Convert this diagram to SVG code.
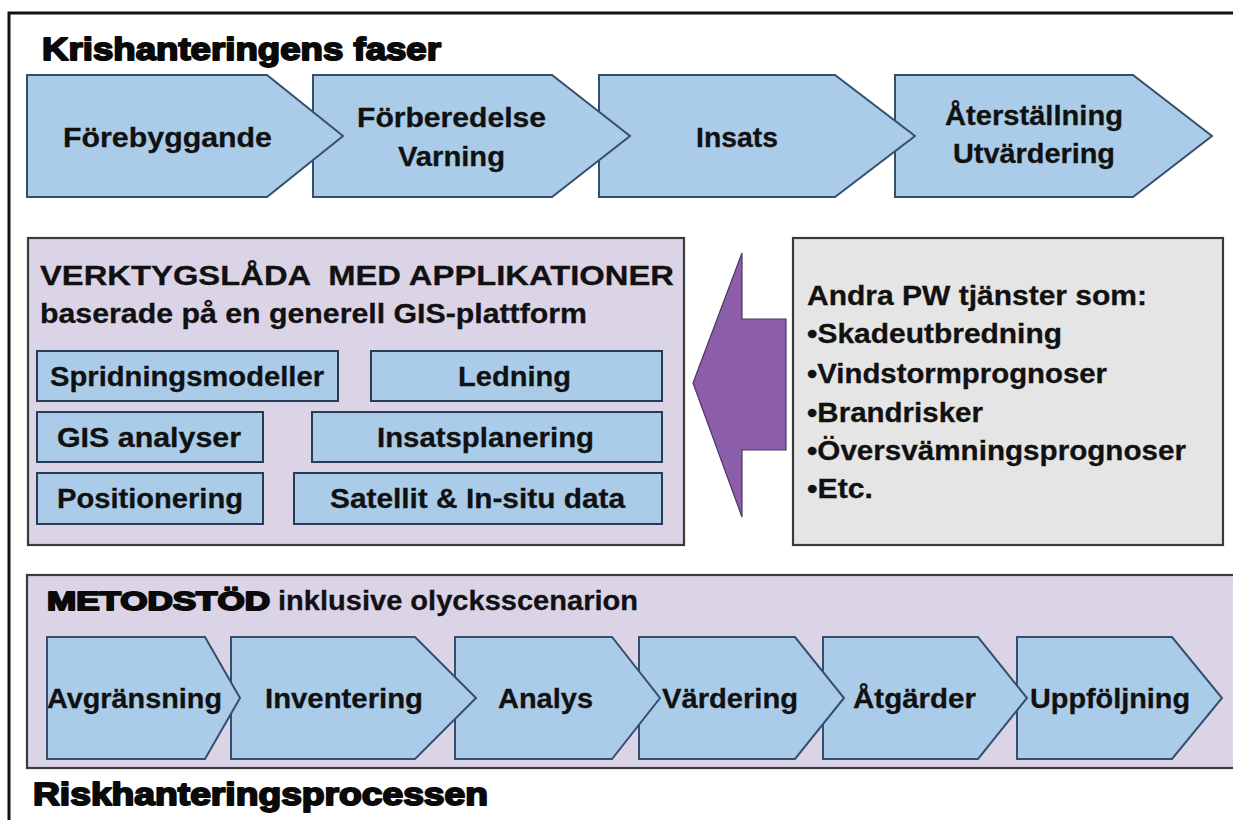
<svg xmlns="http://www.w3.org/2000/svg" width="1233" height="820" viewBox="0 0 1233 820">
<defs>
<style>
.bg{fill:#ffffff}
.frame{fill:none;stroke:#111;stroke-width:3}
.chev{fill:#aacce8;stroke:#34506e;stroke-width:2;stroke-linejoin:miter}
.app{fill:#aacce8;stroke:#2a3c55;stroke-width:2}
.panel{fill:#dbd4e7;stroke:#3a3a3a;stroke-width:2.2}
.grey{fill:#e5e5e5;stroke:#3a3a3a;stroke-width:2.2}
.arrow{fill:#8c5ea9;stroke:#4e3466;stroke-width:1.2}
.t{font-family:"Liberation Sans",Arial,sans-serif;font-weight:bold;font-size:27px;fill:#111;stroke:#111;stroke-width:0.3}
.h{font-family:"Liberation Sans",Arial,sans-serif;font-weight:bold;fill:#0a0a0a;stroke:#0a0a0a;stroke-width:1.9;stroke-linejoin:round}
</style>
</defs>
<rect class="bg" x="0" y="0" width="1233" height="820"/>
<path class="frame" d="M9 820 V13 H1233"/>

<g id="title-kris">
<text class="h" x="42" y="60" font-size="32" textLength="399" lengthAdjust="spacingAndGlyphs">Krishanteringens faser</text>
</g>

<g id="phase-aterstallning">
<polygon class="chev" points="895,75 1133,75 1212,136 1133,197 895,197"/>
<text class="t" x="945" y="125" textLength="178" lengthAdjust="spacingAndGlyphs">Återställning</text>
<text class="t" x="953" y="163" textLength="162" lengthAdjust="spacingAndGlyphs">Utvärdering</text>
</g>
<g id="phase-insats">
<polygon class="chev" points="599,75 835,75 915,136 835,197 599,197"/>
<text class="t" x="696" y="147" textLength="82" lengthAdjust="spacingAndGlyphs">Insats</text>
</g>
<g id="phase-forberedelse">
<polygon class="chev" points="313,75 552,75 630,136 552,197 313,197"/>
<text class="t" x="357" y="127" textLength="189" lengthAdjust="spacingAndGlyphs">Förberedelse</text>
<text class="t" x="398" y="166" textLength="107" lengthAdjust="spacingAndGlyphs">Varning</text>
</g>
<g id="phase-forebyggande">
<polygon class="chev" points="27,75 267,75 343,136 267,197 27,197"/>
<text class="t" x="63" y="147" textLength="209" lengthAdjust="spacingAndGlyphs">Förebyggande</text>
</g>

<g id="verktygslada">
<rect class="panel" x="28" y="238" width="656" height="307"/>
<text class="t" x="40" y="285" font-size="30" textLength="634" lengthAdjust="spacingAndGlyphs" xml:space="preserve">VERKTYGSLÅDA  MED APPLIKATIONER</text>
<text class="t" x="40" y="323" textLength="547" lengthAdjust="spacingAndGlyphs">baserade på en generell GIS-plattform</text>
</g>
<g id="app-spridning">
<rect class="app" x="37" y="351" width="301" height="50"/>
<text class="t" x="50" y="386" textLength="274" lengthAdjust="spacingAndGlyphs">Spridningsmodeller</text>
</g>
<g id="app-ledning">
<rect class="app" x="371" y="351" width="291" height="50"/>
<text class="t" x="458" y="386" textLength="113" lengthAdjust="spacingAndGlyphs">Ledning</text>
</g>
<g id="app-gis">
<rect class="app" x="37" y="412" width="226" height="50"/>
<text class="t" x="57" y="447" textLength="184" lengthAdjust="spacingAndGlyphs">GIS analyser</text>
</g>
<g id="app-insatsplanering">
<rect class="app" x="312" y="412" width="350" height="50"/>
<text class="t" x="377" y="447" textLength="217" lengthAdjust="spacingAndGlyphs">Insatsplanering</text>
</g>
<g id="app-positionering">
<rect class="app" x="37" y="473" width="226" height="51"/>
<text class="t" x="57" y="508" textLength="186" lengthAdjust="spacingAndGlyphs">Positionering</text>
</g>
<g id="app-satellit">
<rect class="app" x="294" y="473" width="368" height="51"/>
<text class="t" x="330" y="508" textLength="295" lengthAdjust="spacingAndGlyphs">Satellit &amp; In-situ data</text>
</g>

<g id="pw-tjanster">
<rect class="grey" x="793" y="238" width="430" height="307"/>
<text class="t" x="807" y="305" textLength="340" lengthAdjust="spacingAndGlyphs">Andra PW tjänster som:</text>
<text class="t" x="807" y="343" textLength="255" lengthAdjust="spacingAndGlyphs">•Skadeutbredning</text>
<text class="t" x="807" y="383" textLength="300" lengthAdjust="spacingAndGlyphs">•Vindstormprognoser</text>
<text class="t" x="807" y="422" textLength="176" lengthAdjust="spacingAndGlyphs">•Brandrisker</text>
<text class="t" x="807" y="460" textLength="379" lengthAdjust="spacingAndGlyphs">•Översvämningsprognoser</text>
<text class="t" x="807" y="498" textLength="66" lengthAdjust="spacingAndGlyphs">•Etc.</text>
</g>

<g id="connectors">
<polygon class="arrow" points="693,383 742,253 742,319 786,319 786,450 742,450 742,517"/>
</g>

<g id="metodstod">
<rect class="panel" x="27" y="575" width="1215" height="193"/>
<text class="h" x="47" y="610" font-size="26" stroke-width="1.5" textLength="223" lengthAdjust="spacingAndGlyphs">METODSTÖD</text>
<text class="t" x="278" y="610" font-size="26" textLength="360" lengthAdjust="spacingAndGlyphs">inklusive olycksscenarion</text>
</g>

<g id="step-uppfoljning">
<polygon class="chev" points="1017,637 1172,637 1222,698 1172,759 1017,759"/>
<text class="t" x="1030" y="708" textLength="160" lengthAdjust="spacingAndGlyphs">Uppföljning</text>
</g>
<g id="step-atgarder">
<polygon class="chev" points="823,637 978,637 1027,698 978,759 823,759"/>
<text class="t" x="853" y="708" textLength="123" lengthAdjust="spacingAndGlyphs">Åtgärder</text>
</g>
<g id="step-vardering">
<polygon class="chev" points="639,637 795,637 844,698 795,759 639,759"/>
<text class="t" x="662" y="708" textLength="136" lengthAdjust="spacingAndGlyphs">Värdering</text>
</g>
<g id="step-analys">
<polygon class="chev" points="455,637 612,637 660,698 612,759 455,759"/>
<text class="t" x="498" y="708" textLength="95" lengthAdjust="spacingAndGlyphs">Analys</text>
</g>
<g id="step-inventering">
<polygon class="chev" points="231,637 415,637 476,698 415,759 231,759"/>
<text class="t" x="265" y="708" textLength="158" lengthAdjust="spacingAndGlyphs">Inventering</text>
</g>
<g id="step-avgransning">
<polygon class="chev" points="47,637 205,637 240,698 205,759 47,759"/>
<text class="t" x="47" y="708" textLength="175" lengthAdjust="spacingAndGlyphs">Avgränsning</text>
</g>

<g id="title-risk">
<text class="h" x="33" y="805" font-size="31" textLength="455" lengthAdjust="spacingAndGlyphs">Riskhanteringsprocessen</text>
</g>
</svg>
